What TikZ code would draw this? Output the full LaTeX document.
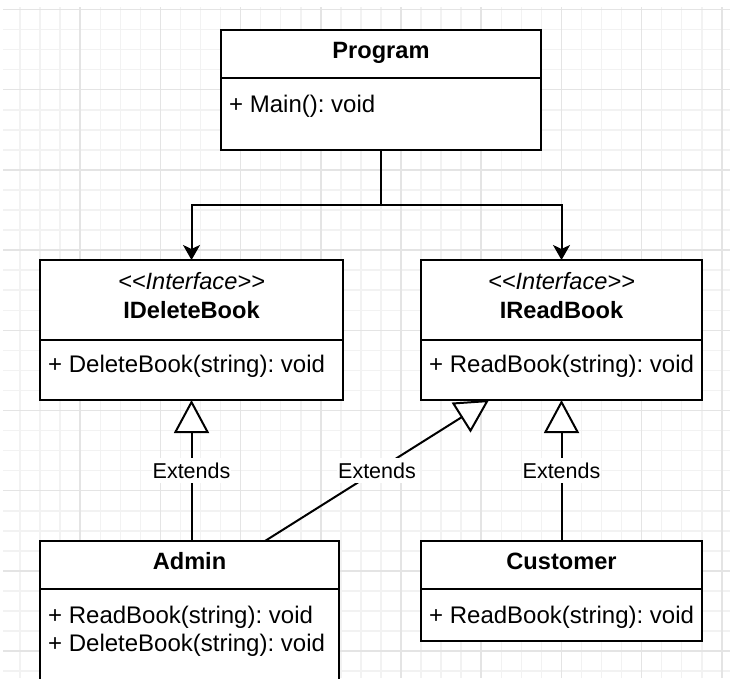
\documentclass[tikz,border=0pt]{standalone}
\usepackage{fontspec}
\setmainfont{Liberation Sans}[Ligatures=TeXOff]
\usetikzlibrary{arrows.meta}
\definecolor{gridminor}{HTML}{F2F2F2}
\definecolor{gridmajor}{HTML}{E4E4E4}
\frenchspacing
\begin{document}
\begin{tikzpicture}[x=1pt,y=-1pt,
  classbox/.style={draw=black, line width=2pt, fill=white, rectangle,
    inner sep=0pt, outer sep=0pt, anchor=north west},
  ttl/.style={font=\fontsize{23.6}{28}\selectfont\bfseries, anchor=base, inner sep=0pt},
  stereo/.style={font=\fontsize{23.6}{28}\selectfont\itshape, anchor=base, inner sep=0pt},
  member/.style={font=\fontsize{24}{28}\selectfont, anchor=base west, inner sep=0pt},
  lbl/.style={font=\fontsize{21.5}{26}\selectfont, fill=white, inner xsep=1pt,
    inner ysep=5pt, text height=15.5pt, text depth=0pt},
  assoc/.style={draw=black, line width=2pt, -{Stealth[length=15pt,width=17pt,inset=4pt]}},
  extends/.style={draw=black, line width=2pt, -{Triangle[length=33pt,width=35pt,fill=white]}},
  divider/.style={draw=black, line width=2pt},
]
\useasboundingbox (0,0) rectangle (730,678);
\clip (0,0) rectangle (730,678);

% background grid: minor lines, then the heavier lines every fourth step
\foreach \k in {1,...,36}
  \draw[gridminor, line width=1.5pt] ({20.05*\k},7) -- ({20.05*\k},678);
\foreach \k in {0,...,33}
  \draw[gridminor, line width=1.5pt] (3,{9.5+20.05*\k}) -- (730,{9.5+20.05*\k});
\foreach \k in {4,8,...,36}
  \draw[gridmajor, line width=1.5pt] ({20.05*\k},7) -- ({20.05*\k},678);
\foreach \k in {0,4,...,32}
  \draw[gridmajor, line width=1.5pt] (3,{9.5+20.05*\k}) -- (730,{9.5+20.05*\k});

% class boxes
\node[classbox, minimum width=320pt, minimum height=120pt] (P) at (221,30) {};
\draw[divider] (P.north west) ++(0,48) -- ++(320,0);
\node[ttl] (Pt) at (381,58.5) {Program};
\node[member] (Pm) at (229,112.5) {+ Main(): void};

\node[classbox, minimum width=303pt, minimum height=140pt] (ID) at (40,260) {};
\draw[divider] (ID.north west) ++(0,79.5) -- ++(303,0);
\node[stereo] (IDs) at (191.5,289.5) {<<Interface>>};
\node[ttl] (IDt) at (191.5,318) {IDeleteBook};
\node[member] (IDm) at (48,372.5) {+ DeleteBook(string): void};

\node[classbox, minimum width=281pt, minimum height=140pt] (IR) at (421,260) {};
\draw[divider] (IR.north west) ++(0,79.5) -- ++(281,0);
\node[stereo] (IRs) at (561.5,289.5) {<<Interface>>};
\node[ttl] (IRt) at (561.5,318) {IReadBook};
\node[member] (IRm) at (429,372.5) {+ ReadBook(string): void};

\node[classbox, minimum width=299pt, minimum height=170pt] (A) at (40,541) {};
\draw[divider] (A.north west) ++(0,48) -- ++(299,0);
\node[ttl] (At) at (189.5,569.5) {Admin};
\node[member] (Am1) at (48,623) {+ ReadBook(string): void};
\node[member] (Am2) at (48,651.5) {+ DeleteBook(string): void};

\node[classbox, minimum width=281pt, minimum height=100pt] (C) at (421,541) {};
\draw[divider] (C.north west) ++(0,48) -- ++(281,0);
\node[ttl] (Ct) at (561.5,569.5) {Customer};
\node[member] (Cm) at (429,623) {+ ReadBook(string): void};

% Program uses both interfaces
\draw[assoc] (P.south) -- ++(0,55) -| (ID.north);
\draw[assoc] (P.south) -- ++(0,55) -| (IR.north);

% realisations
\draw[extends] (A.north -| ID.south) -- (ID.south)
  node[lbl, midway] (e1) {Extends};
\draw[extends] ([xshift=225pt]A.north west) -- ([xshift=68pt]IR.south west)
  node[lbl, midway] (e2) {Extends};
\draw[extends] (C.north -| IR.south) -- (IR.south)
  node[lbl, midway] (e3) {Extends};
\end{tikzpicture}
\end{document}
